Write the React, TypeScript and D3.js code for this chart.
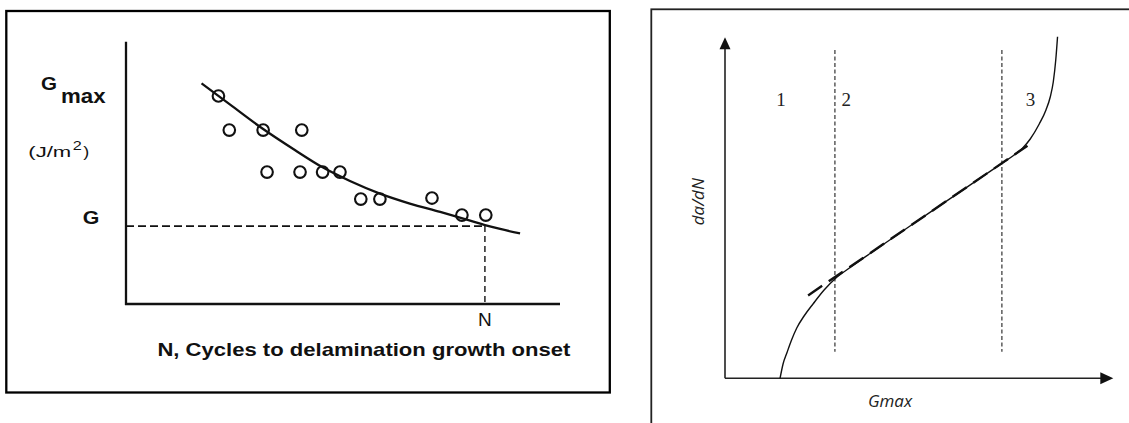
import React from 'react';
import * as d3 from 'd3';

const W = 1129;
const H = 423;

// ---------- Left chart: Gmax vs N (cycles to delamination growth onset) ----------
const scatterN = [21.3, 23.8, 31.6, 40.5, 32.5, 40.1, 45.3, 49.3, 54.1, 58.5, 70.5, 77.4, 82.9];
const scatterG = [79.3, 66.3, 66.3, 66.3, 50.3, 50.3, 50.3, 50.3, 40.0, 40.0, 40.4, 33.9, 33.9];
const fitN = [17.4, 24.0, 31.6, 38.9, 45.2, 51.6, 58.5, 65.4, 72.4, 79.3, 82.7, 86.2, 90.8];
const fitG = [84.1, 76.0, 66.7, 58.7, 52.2, 46.9, 42.1, 38.3, 35.1, 31.8, 30.1, 28.6, 26.9];
const thresholdN = 82.7;
const thresholdG = 29.7;
const leftTitle = 'N, Cycles to delamination growth onset';

// ---------- Right chart: da/dN vs Gmax ----------
const curveG = [14.18, 14.95, 15.9, 17.14, 18.48, 20.36, 22.76, 25.52, 28.43, 32.22, 37.37, 50.98, 65.72, 71.31, 74.3, 76.55, 78.61, 80.93, 82.66, 83.76, 84.54, 85.18, 85.64];
const curveRate = [0, 4.19, 7.33, 11.23, 14.75, 18.27, 21.94, 25.89, 29.27, 32.49, 36.6, 47.27, 58.71, 63.05, 65.34, 67.39, 70.18, 74.57, 78.68, 82.49, 86.89, 93.34, 100.18];
const tangentG = [21.4, 77.9];
const tangentRate = [24.3, 68.2];
const regionBounds = [28.3, 71.3];
const regionSpan = [7.8, 96.3];
const regionLabels = ['1', '2', '3'];
const regionLabelG = [14.4, 31.2, 78.7];
const regionLabelRate = 79.9;

export default function App() {
  // left scales
  const xL = d3.scaleLinear().domain([0, 100]).range([126, 560]);
  const yL = d3.scaleLinear().domain([0, 100]).range([304, 41.7]);
  // right scales
  const xR = d3.scaleLinear().domain([0, 100]).range([725, 1113.3]);
  const yR = d3.scaleLinear().domain([0, 100]).range([378.3, 37.3]);

  const fitPts: [number, number][] = fitN.map((n, i) => [xL(n), yL(fitG[i])]);
  const fitPath = d3.line().curve(d3.curveMonotoneX)(fitPts) || '';

  const rPts: [number, number][] = curveG.map((g, i) => [xR(g), yR(curveRate[i])]);
  const rPath = d3.line().curve(d3.curveMonotoneX)(rPts) || '';

  const sans = "'Liberation Sans', Arial, sans-serif";
  const ink = '#111';

  const yAxTop = yR(100);
  const xAxRight = xR(100);

  return (
    <svg width={W} height={H} style={{ position: 'absolute', left: 0, top: 0, background: '#fff' }}>
      <rect x={0} y={0} width={W} height={H} fill="#fff" />
      {/* ---------------- LEFT PANEL ---------------- */}
      <rect x={6.3} y={11} width={603.5} height={381.5} fill="none" stroke="#000" strokeWidth={2.3} />
      {/* axes */}
      <line x1={xL(0)} y1={yL(0) + 1} x2={xL(0)} y2={yL(100)} stroke={ink} strokeWidth={2.3} />
      <line x1={xL(0) - 1} y1={yL(0)} x2={xL(100)} y2={yL(0)} stroke={ink} strokeWidth={2.3} />
      {/* threshold dashed lines */}
      <line x1={xL(0)} y1={yL(thresholdG)} x2={xL(thresholdN)} y2={yL(thresholdG)} stroke={ink} strokeWidth={1.6} strokeDasharray="8,4" />
      <line x1={xL(thresholdN)} y1={yL(thresholdG)} x2={xL(thresholdN)} y2={yL(0)} stroke={ink} strokeWidth={1.4} strokeDasharray="6,4" />
      {/* fit curve */}
      <path d={fitPath} fill="none" stroke={ink} strokeWidth={2.3} />
      {/* data circles */}
      {scatterN.map((n, i) => (
        <circle key={i} cx={xL(n)} cy={yL(scatterG[i])} r={5.8} fill="none" stroke={ink} strokeWidth={2.1} />
      ))}
      {/* labels */}
      <text x={41} y={89.5} fontFamily={sans} fontWeight="bold" fontSize={18} fill={ink} textLength={16} lengthAdjust="spacingAndGlyphs">G</text>
      <text x={61} y={103} fontFamily={sans} fontWeight="bold" fontSize={20} fill={ink} textLength={44.5} lengthAdjust="spacingAndGlyphs">max</text>
      <text x={28.3} y={157} fontFamily={sans} fontSize={15} fill={ink} textLength={43} lengthAdjust="spacingAndGlyphs">(J/m</text>
      <text x={72.7} y={150} fontFamily={sans} fontSize={13} fill={ink} textLength={9} lengthAdjust="spacingAndGlyphs">2</text>
      <text x={83.3} y={157} fontFamily={sans} fontSize={15} fill={ink} textLength={6} lengthAdjust="spacingAndGlyphs">)</text>
      <text x={xL(0) - 43.3} y={yL(thresholdG) - 2} fontFamily={sans} fontWeight="bold" fontSize={18} fill={ink} textLength={16.6} lengthAdjust="spacingAndGlyphs">G</text>
      <text x={xL(thresholdN)} y={326} textAnchor="middle" fontFamily={sans} fontSize={19} fill={ink}>N</text>
      <text x={157.4} y={356} fontFamily={sans} fontWeight="bold" fontSize={19} fill={ink} textLength={413} lengthAdjust="spacingAndGlyphs">{leftTitle}</text>

      {/* ---------------- RIGHT PANEL ---------------- */}
      <rect x={651.3} y={9.3} width={520} height={450} fill="none" stroke="#222" strokeWidth={1.8} />
      {/* axes */}
      <line x1={xR(0)} y1={yR(0)} x2={xR(0)} y2={yAxTop + 11} stroke="#222" strokeWidth={1.6} />
      <line x1={xR(0)} y1={yR(0)} x2={xAxRight - 12} y2={yR(0)} stroke="#222" strokeWidth={1.6} />
      <path d={`M${xR(0)},${yAxTop} L${xR(0) - 5.5},${yAxTop + 12} L${xR(0) + 5.5},${yAxTop + 12} Z`} fill="#111" />
      <path d={`M${xAxRight},${yR(0)} L${xAxRight - 13},${yR(0) - 6} L${xAxRight - 13},${yR(0) + 6} Z`} fill="#111" />
      {/* region boundaries */}
      {regionBounds.map((g, i) => (
        <line key={i} x1={xR(g)} y1={yR(regionSpan[1])} x2={xR(g)} y2={yR(regionSpan[0])} stroke="#666" strokeWidth={1.6} strokeDasharray="4,2.5" />
      ))}
      {/* tangent (linear) dashed line */}
      <line x1={xR(tangentG[0])} y1={yR(tangentRate[0])} x2={xR(tangentG[1])} y2={yR(tangentRate[1])} stroke="#111" strokeWidth={2.4} strokeDasharray="17,8" />
      {/* growth curve */}
      <path d={rPath} fill="none" stroke="#111" strokeWidth={1.4} />
      {/* region labels */}
      {regionLabels.map((t, i) => (
        <text key={t} x={xR(regionLabelG[i])} y={yR(regionLabelRate)} textAnchor="middle" fontFamily="'Liberation Serif', 'Times New Roman', serif" fontSize={19} fill="#222">{t}</text>
      ))}
      {/* axis titles */}
      <text transform={`translate(704,201.7) rotate(-90)`} textAnchor="middle" fontFamily="'Open Sans', 'Noto Sans', sans-serif" fontStyle="italic" fontSize={17} fill="#222">da/dN</text>
      <text x={890} y={407} textAnchor="middle" fontFamily="'Open Sans', 'Noto Sans', sans-serif" fontStyle="italic" fontSize={17} fill="#222">Gmax</text>
    </svg>
  );
}
